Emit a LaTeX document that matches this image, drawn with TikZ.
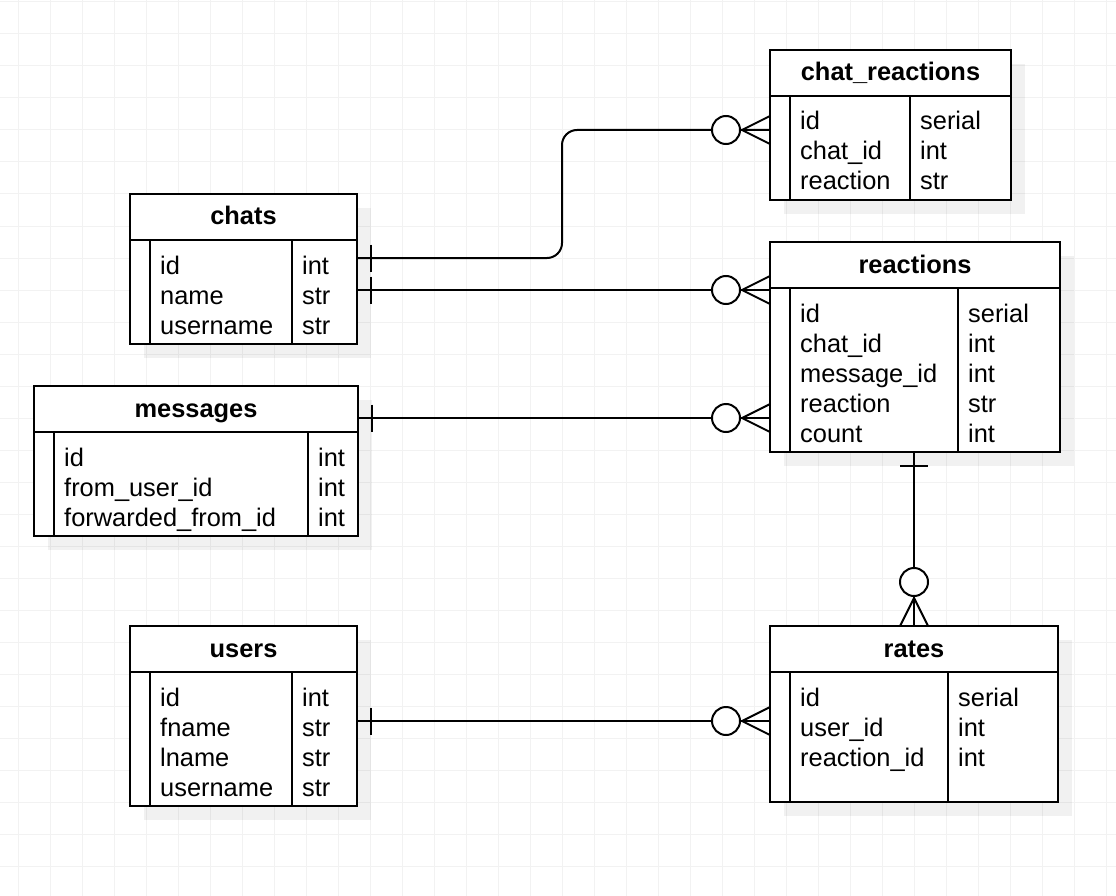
\documentclass[tikz,border=0pt]{standalone}
\usepackage{fontspec}
\setmainfont{Liberation Sans}
\usetikzlibrary{calc}
\definecolor{gridc}{HTML}{F2F2F2}
\tikzset{
  tbl/.style={draw=black, line width=2pt, fill=white, rectangle, inner sep=0pt, outer sep=0pt},
  edge/.style={line width=2pt, black},
  rel/.style={line width=2pt, black},
  ttl/.style={anchor=base, inner sep=0pt, font=\fontsize{25.4}{30}\selectfont\bfseries},
  rowt/.style={anchor=base west, inner sep=0pt, font=\fontsize{25.4}{30}\selectfont},
  shad/.style={fill=black, fill opacity=0.055},
}
% #1 name, #2 x, #3 y, #4 w, #5 h, #6 divider offset, #7 title
\newcommand\ertbl[7]{%
  \fill[shad] (#2+14,#3+14) rectangle (#2+#4+14,#3+#5+14);
  \node[tbl, minimum width=#4pt, minimum height=#5pt, anchor=north west] (#1) at (#2,#3) {};
  \draw[edge] (#2,#3+46) -- (#2+#4,#3+46);
  \draw[edge] (#2+20,#3+46) -- (#2+20,#3+#5);
  \draw[edge] (#2+#6,#3+46) -- (#2+#6,#3+#5);
  \node[ttl] (#1-t) at (#2+#4/2,#3+31) {#7};
}
% crow's foot with zero, entering a box from the left at point #1
\newcommand\crowW[1]{%
  \draw[rel] ($(#1)+(-28,0)$) -- ($(#1)+(0,-14)$)
             ($(#1)+(-28,0)$) -- ($(#1)+(0,14)$);
  \draw[rel, fill=white] ($(#1)+(-44,0)$) circle[radius=14pt];
}
% crow's foot with zero, entering a box from above at point #1
\newcommand\crowN[1]{%
  \draw[rel] ($(#1)+(0,-28)$) -- ($(#1)+(-14,0)$)
             ($(#1)+(0,-28)$) -- ($(#1)+(14,0)$);
  \draw[rel, fill=white] ($(#1)+(0,-44)$) circle[radius=14pt];
}
% one bar, leaving a box to the right from point #1
\newcommand\barE[1]{%
  \draw[rel] ($(#1)+(14,-13.5)$) -- ($(#1)+(14,13.5)$);
}
\begin{document}
\begin{tikzpicture}[x=1pt,y=-1pt]
\useasboundingbox (0,0) rectangle (1116,896);
\fill[white] (0,0) rectangle (1116,896);
\foreach \i in {0,...,34} \draw[gridc, line width=1pt] (18+32*\i,0) -- (18+32*\i,896);
\foreach \j in {0,...,27} \draw[gridc, line width=1pt] (0,2+32*\j) -- (1116,2+32*\j);

% ---------- tables ----------
\ertbl{chatreactions}{770}{50}{241}{150}{140}{chat\_reactions}
\node[rowt] (cr1) at (800,130) {id};
\node[rowt] (cr2) at (800,160) {chat\_id};
\node[rowt] (cr3) at (800,190) {reaction};
\node[rowt] (cr1t) at (920,130) {serial};
\node[rowt] (cr2t) at (920,160) {int};
\node[rowt] (cr3t) at (920,190) {str};

\ertbl{chats}{130}{194}{227}{150}{162}{chats}
\node[rowt] (ch1) at (160,274) {id};
\node[rowt] (ch2) at (160,304) {name};
\node[rowt] (ch3) at (160,334) {username};
\node[rowt] (ch1t) at (302,274) {int};
\node[rowt] (ch2t) at (302,304) {str};
\node[rowt] (ch3t) at (302,334) {str};

\ertbl{reactions}{770}{242}{290}{210}{188}{reactions}
\node[rowt] (re1) at (800,322) {id};
\node[rowt] (re2) at (800,352) {chat\_id};
\node[rowt] (re3) at (800,382) {message\_id};
\node[rowt] (re4) at (800,412) {reaction};
\node[rowt] (re5) at (800,442) {count};
\node[rowt] (re1t) at (968,322) {serial};
\node[rowt] (re2t) at (968,352) {int};
\node[rowt] (re3t) at (968,382) {int};
\node[rowt] (re4t) at (968,412) {str};
\node[rowt] (re5t) at (968,442) {int};

\ertbl{messages}{34}{386}{324}{150}{274}{messages}
\node[rowt] (me1) at (64,466) {id};
\node[rowt] (me2) at (64,496) {from\_user\_id};
\node[rowt] (me3) at (64,526) {forwarded\_from\_id};
\node[rowt] (me1t) at (318,466) {int};
\node[rowt] (me2t) at (318,496) {int};
\node[rowt] (me3t) at (318,526) {int};

\ertbl{users}{130}{626}{227}{180}{162}{users}
\node[rowt] (us1) at (160,706) {id};
\node[rowt] (us2) at (160,736) {fname};
\node[rowt] (us3) at (160,766) {lname};
\node[rowt] (us4) at (160,796) {username};
\node[rowt] (us1t) at (302,706) {int};
\node[rowt] (us2t) at (302,736) {str};
\node[rowt] (us3t) at (302,766) {str};
\node[rowt] (us4t) at (302,796) {str};

\ertbl{rates}{770}{626}{288}{176}{178}{rates}
\node[rowt] (ra1) at (800,706) {id};
\node[rowt] (ra2) at (800,736) {user\_id};
\node[rowt] (ra3) at (800,766) {reaction\_id};
\node[rowt] (ra1t) at (958,706) {serial};
\node[rowt] (ra2t) at (958,736) {int};
\node[rowt] (ra3t) at (958,766) {int};

% ---------- connectors ----------
\coordinate (a1) at ([yshift=-64pt]chats.north east);
\coordinate (b1) at ([yshift=-80pt]chatreactions.north west);
\coordinate (m1) at (562,0);
\draw[rel, rounded corners=15pt] (a1) -- (a1 -| m1) -- (b1 -| m1) -- (b1);
\barE{a1}
\crowW{b1}

\coordinate (a2) at ([yshift=-96pt]chats.north east);
\coordinate (b2) at (reactions.west |- a2);
\draw[rel] (a2) -- (b2);
\barE{a2}
\crowW{b2}

\coordinate (a3) at ([yshift=-32pt]messages.north east);
\coordinate (b3) at (reactions.west |- a3);
\draw[rel] (a3) -- (b3);
\barE{a3}
\crowW{b3}

\coordinate (a4) at ([yshift=-95pt]users.north east);
\coordinate (b4) at (rates.west |- a4);
\draw[rel] (a4) -- (b4);
\barE{a4}
\crowW{b4}

\coordinate (a5) at (rates.north |- reactions.south);
\coordinate (b5) at (rates.north);
\draw[rel] (a5) -- (b5);
\draw[rel] ($(a5)+(-14,14)$) -- ($(a5)+(14,14)$);
\crowN{b5}
\end{tikzpicture}
\end{document}
